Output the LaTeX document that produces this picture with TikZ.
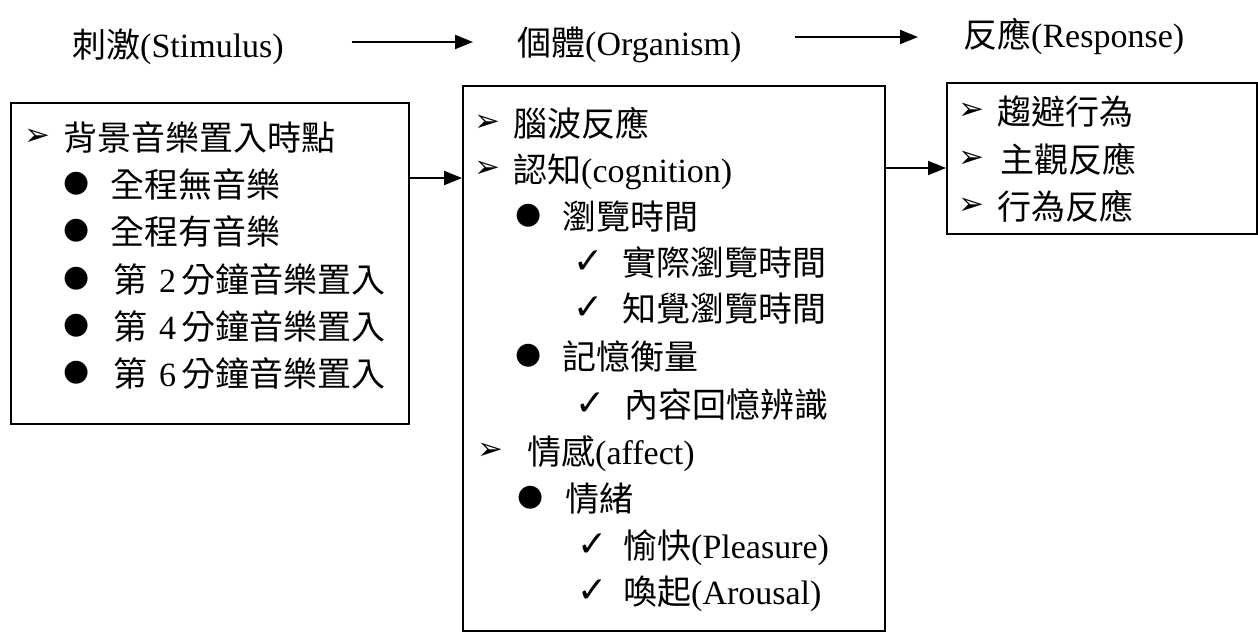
\documentclass[tikz,border=0pt]{standalone}
\usepackage{fontspec}
\setmainfont{Liberation Serif}
\newfontfamily\cjk{Noto Sans CJK TC}
\newfontfamily\symf{DejaVu Sans}
\usetikzlibrary{arrows.meta}
\newcommand\zh[1]{{\cjk #1}}
\begin{document}
\begin{tikzpicture}[x=1pt,y=-1pt,
  txt/.style={anchor=base west, inner sep=0pt, font=\fontsize{34}{40}\selectfont},
  sarr/.style={anchor=west, inner sep=0pt, font=\symf\fontsize{31}{36}\selectfont},
  sdot/.style={anchor=west, inner sep=0pt, font=\symf\fontsize{30}{34}\selectfont},
  schk/.style={anchor=west, inner sep=0pt, font=\symf\fontsize{36}{40}\selectfont},
  box/.style={draw, line width=2pt, inner sep=0pt, anchor=north west},
  arr/.style={line width=2pt, -{Triangle[length=18pt,width=14pt]}}]
\useasboundingbox (0,0) rectangle (1258,640);
% titles
\node[txt] (tS) at (72,57) {\zh{刺激}(Stimulus)};
\node[txt] (tO) at (517,55) {\zh{個體}(Organism)};
\node[txt] (tR) at (963,47) {\zh{反應}(Response)};
\coordinate (yA1) at (0,42);
\coordinate (yA2) at (0,37);
\draw[arr] ([xshift=68pt]tS.east |- yA1) -- ([xshift=-44pt]tO.west |- yA1);
\draw[arr] ([xshift=53pt]tO.east |- yA2) -- ([xshift=-45pt]tR.west |- yA2);
% boxes
\node[box, minimum width=398pt, minimum height=321pt] (S) at (10,102) {};
\node[box, minimum width=422pt, minimum height=545pt] (O) at (462,85) {};
\node[box, minimum width=310pt, minimum height=151pt] (R) at (946,82) {};
\coordinate (ySO) at (0,178);
\coordinate (yOR) at (0,168);
\draw[arr] (S.east |- ySO) -- (O.west |- ySO);
\draw[arr] (O.east |- yOR) -- (R.west |- yOR);
% stimulus items
\node[sarr] (s0m) at (24,137) {➢};
\node[txt] (s0) at (63,150) {\zh{背景音樂置入時點}};
\node[sdot] (s1m) at (63,184) {●};
\node[txt] (s1) at (110,197) {\zh{全程無音樂}};
\node[sdot] (s2m) at (63,231) {●};
\node[txt] (s2) at (110,244) {\zh{全程有音樂}};
\node[sdot] (s3m) at (63,279) {●};
\node[txt] (s3) at (113,292) {\zh{第}\hspace{12pt}2\hspace{5pt}\zh{分鐘音樂置入}};
\node[sdot] (s4m) at (63,326) {●};
\node[txt] (s4) at (113,339) {\zh{第}\hspace{12pt}4\hspace{5pt}\zh{分鐘音樂置入}};
\node[sdot] (s5m) at (63,373) {●};
\node[txt] (s5) at (113,386) {\zh{第}\hspace{12pt}6\hspace{5pt}\zh{分鐘音樂置入}};
% organism items
\node[sarr] (o0m) at (474,123) {➢};
\node[txt] (o0) at (513,136) {\zh{腦波反應}};
\node[sarr] (o1m) at (474,169) {➢};
\node[txt] (o1) at (513,182) {\zh{認知}(cognition)};
\node[sdot] (o2m) at (515,216) {●};
\node[txt] (o2) at (562,229) {\zh{瀏覽時間}};
\node[schk] (o3m) at (573,262) {✓};
\node[txt] (o3) at (622,275) {\zh{實際瀏覽時間}};
\node[schk] (o4m) at (573,308) {✓};
\node[txt] (o4) at (622,321) {\zh{知覺瀏覽時間}};
\node[sdot] (o5m) at (515,356) {●};
\node[txt] (o5) at (562,369) {\zh{記憶衡量}};
\node[schk] (o6m) at (575,404) {✓};
\node[txt] (o6) at (624,417) {\zh{內容回憶辨識}};
\node[sarr] (o7m) at (477,451) {➢};
\node[txt] (o7) at (527,464) {\zh{情感}(affect)};
\node[sdot] (o8m) at (517,498) {●};
\node[txt] (o8) at (565,511) {\zh{情緒}};
\node[schk] (o9m) at (577,545) {✓};
\node[txt] (o9) at (623,558) {\zh{愉快}(Pleasure)};
\node[schk] (o10m) at (577,591) {✓};
\node[txt] (o10) at (623,604) {\zh{喚起}(Arousal)};
% response items
\node[sarr] (r0m) at (958,111) {➢};
\node[txt] (r0) at (997,124) {\zh{趨避行為}};
\node[sarr] (r1m) at (958,159) {➢};
\node[txt] (r1) at (1000,172) {\zh{主觀反應}};
\node[sarr] (r2m) at (958,206) {➢};
\node[txt] (r2) at (997,219) {\zh{行為反應}};
\end{tikzpicture}
\end{document}
